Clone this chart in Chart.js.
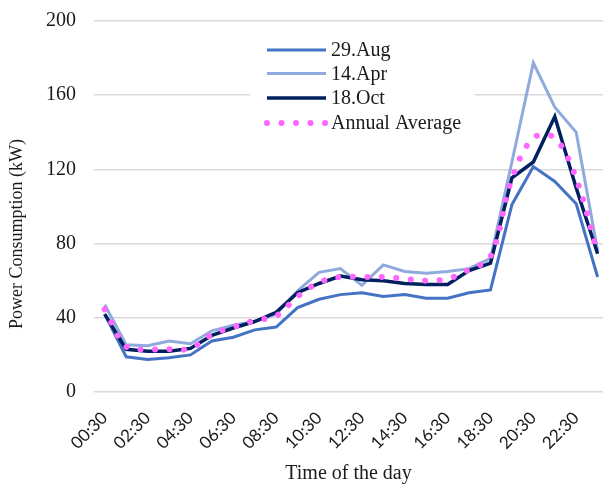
<!DOCTYPE html>
<html lang="en">
<head>
  <meta charset="UTF-8">
  <title>Power Consumption</title>
  <style>
    html, body { margin: 0; padding: 0; background: #fff; }
    #wrap { width: 603px; height: 486px; position: relative; }
  </style>
</head>
<body>
  <div id="wrap">
    <canvas id="powerChart"></canvas>
  </div>

  <script src="https://cdn.jsdelivr.net/npm/chart.js"></script>
  <script>
    // hourly points, labels shown every 2 hours
    const times = ['00:30', '01:30', '02:30', '03:30', '04:30', '05:30', '06:30', '07:30',
                   '08:30', '09:30', '10:30', '11:30', '12:30', '13:30', '14:30', '15:30',
                   '16:30', '17:30', '18:30', '19:30', '20:30', '21:30', '22:30', '23:30'];
    const aug29 = [42, 19, 17.5, 18.5, 20, 27.5, 29.5, 33.5, 35, 45.5, 50, 52.5,
                   53.5, 51.5, 52.5, 50.5, 50.5, 53.5, 55, 101, 121.5, 113.5, 101.5, 62];
    const apr14 = [47, 25.5, 25, 27.5, 26, 33, 36, 38, 42, 54.5, 64.5, 66.5,
                   57.5, 68.5, 65, 64, 65, 66.5, 72, 124, 177.5, 153.5, 140, 76];
    const oct18 = [42, 23, 22, 22, 23.5, 30.5, 34.5, 38, 43, 53.5, 58.5, 62.5,
                   60.5, 60, 58.5, 58, 58, 65.5, 69.5, 115.5, 124, 148.5, 110, 74.5];
    const annualAvg = [44.5, 24.5, 23, 23, 23.5, 31, 35, 38.5, 41, 51.5, 59, 62,
                       62, 62, 61, 60, 61, 66, 73, 115, 137, 137, 115, 74.5];
    const yTicks = [0, 40, 80, 120, 160, 200];

    const serif = '"Liberation Serif", "Times New Roman", serif';
    const txt = '#1a1a1a';

    function pts(arr) {
      return arr.map((v, i) => ({ x: i, y: v }));
    }

    // legend inside the plot + rotated y title
    const overlay = {
      id: 'overlay',
      afterDraw(chart) {
        const ctx = chart.ctx;
        ctx.save();
        ctx.fillStyle = '#fff';
        ctx.fillRect(250, 34, 225, 102);

        const rows = [50, 73.5, 98, 123];
        chart.data.datasets.forEach((ds, i) => {
          const y = rows[i];
          ctx.beginPath();
          ctx.strokeStyle = ds.borderColor;
          ctx.lineWidth = ds.borderWidth;
          ctx.lineCap = ds.borderCapStyle || 'butt';
          ctx.setLineDash(ds.borderDash || []);
          ctx.moveTo(267, y);
          ctx.lineTo(326, y);
          ctx.stroke();
          ctx.setLineDash([]);
          ctx.fillStyle = txt;
          ctx.font = '20px ' + serif;
          ctx.textBaseline = 'middle';
          ctx.textAlign = 'left';
          ctx.fillText(ds.label, 331, y + 1);
        });

        ctx.translate(17, 234);
        ctx.rotate(-Math.PI / 2);
        ctx.font = '18px ' + serif;
        ctx.textAlign = 'center';
        ctx.textBaseline = 'middle';
        ctx.fillStyle = txt;
        ctx.fillText('Power Consumption (kW)', 0, 0);
        ctx.restore();
      }
    };

    new Chart(document.getElementById('powerChart'), {
      type: 'line',
      data: {
        datasets: [
          {
            label: '29.Aug',
            data: pts(aug29),
            borderColor: '#4472C4',
            borderWidth: 3,
            pointRadius: 0,
            tension: 0,
            order: 3
          },
          {
            label: '14.Apr',
            data: pts(apr14),
            borderColor: '#8FAADC',
            borderWidth: 3,
            pointRadius: 0,
            tension: 0,
            order: 2
          },
          {
            label: '18.Oct',
            data: pts(oct18),
            borderColor: '#002060',
            borderWidth: 3.5,
            pointRadius: 0,
            tension: 0,
            order: 1
          },
          {
            label: 'Annual Average',
            data: pts(annualAvg),
            borderColor: '#FF66FF',
            borderWidth: 6,
            borderDash: [0.001, 14.5],
            borderCapStyle: 'round',
            pointRadius: 0,
            tension: 0.35,
            order: 0
          }
        ]
      },
      options: {
        responsive: true,
        maintainAspectRatio: false,
        animation: false,
        layout: { padding: { top: 21, right: 0, bottom: 0, left: 0 } },
        plugins: {
          legend: { display: false },
          tooltip: { enabled: false }
        },
        scales: {
          x: {
            type: 'linear',
            min: -0.5,
            max: 23.25,
            afterBuildTicks: s => {
              s.ticks = times.map((t, i) => ({ value: i })).filter(t => t.value % 2 === 0);
            },
            afterFit: s => {
              s.height = 94;
              s.paddingLeft = 0;
              s.paddingRight = 0;
            },
            grid: { display: false },
            border: { display: false },
            ticks: {
              autoSkip: false,
              minRotation: 45,
              maxRotation: 45,
              padding: 8,
              color: txt,
              font: { family: 'Lato, "Open Sans", sans-serif', size: 17 },
              callback: v => times[v]
            },
            title: {
              display: true,
              text: 'Time of the day',
              color: txt,
              font: { family: serif, size: 20 },
              padding: { top: 0, bottom: 0 }
            }
          },
          y: {
            min: 0,
            max: 200,
            afterBuildTicks: s => {
              s.ticks = yTicks.map(v => ({ value: v }));
            },
            afterFit: s => {
              s.width = 94;
              s.paddingTop = 0;
              s.paddingBottom = 0;
            },
            grid: { color: '#d9d9d9', lineWidth: 1.5, drawTicks: false },
            border: { display: false },
            ticks: {
              padding: 18,
              color: txt,
              font: { family: serif, size: 20 }
            }
          }
        }
      },
      plugins: [overlay]
    });
  </script>
</body>
</html>
